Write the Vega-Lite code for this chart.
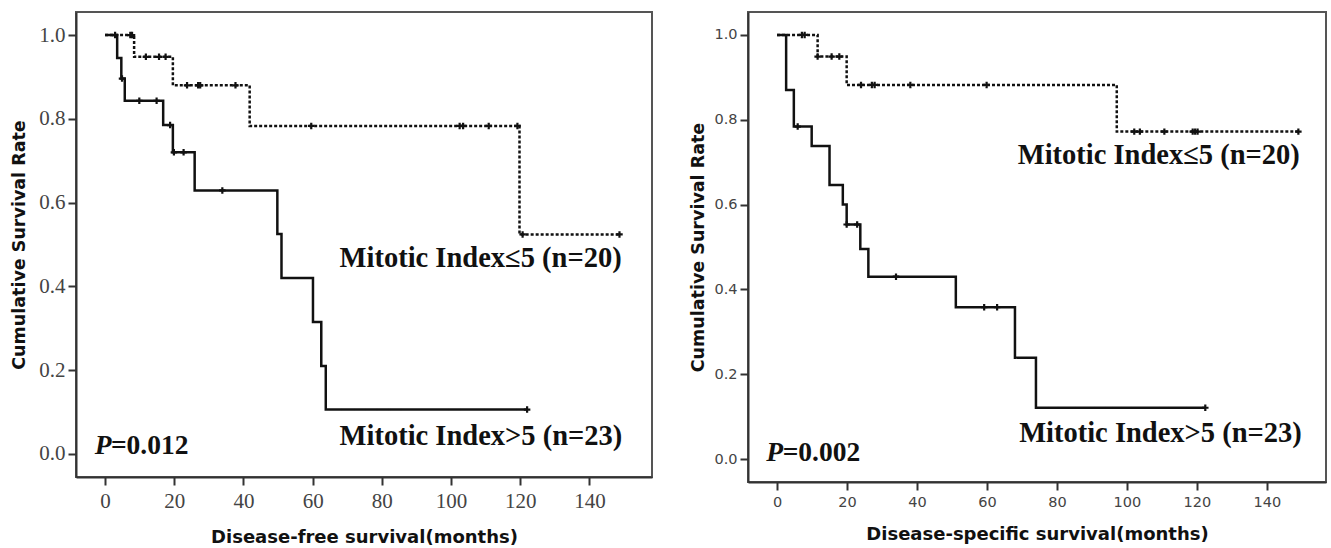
{
  "$schema": "https://vega.github.io/schema/vega-lite/v6.json",
  "padding": {"left": 9, "top": 11, "right": 5, "bottom": 5},
  "spacing": 35,
  "background": "white",
  "config": {
    "view": {"stroke": "#555", "strokeWidth": 2},
    "axis": {"grid": false, "domainColor": "#333", "domainWidth": 2, "tickColor": "#333", "tickWidth": 2, "tickSize": 8, "labelColor": "#444", "titleColor": "#111", "titleFont": "DejaVu Sans", "titleFontWeight": "bold"},
    "text": {"font": "Liberation Serif", "fontWeight": "bold", "fontSize": 28.5, "align": "left", "baseline": "middle", "color": "#111"}
  },
  "datasets": {
    "steps": [
      {"panel": "dfs", "group": "gt5", "t": 0, "s": 1.0},
      {"panel": "dfs", "group": "gt5", "t": 3.5, "s": 0.945},
      {"panel": "dfs", "group": "gt5", "t": 4.7, "s": 0.896},
      {"panel": "dfs", "group": "gt5", "t": 5.7, "s": 0.843},
      {"panel": "dfs", "group": "gt5", "t": 16.8, "s": 0.785},
      {"panel": "dfs", "group": "gt5", "t": 19.6, "s": 0.72},
      {"panel": "dfs", "group": "gt5", "t": 25.9, "s": 0.629},
      {"panel": "dfs", "group": "gt5", "t": 49.8, "s": 0.525},
      {"panel": "dfs", "group": "gt5", "t": 51.0, "s": 0.42},
      {"panel": "dfs", "group": "gt5", "t": 60.1, "s": 0.315},
      {"panel": "dfs", "group": "gt5", "t": 62.5, "s": 0.21},
      {"panel": "dfs", "group": "gt5", "t": 63.8, "s": 0.106},
      {"panel": "dfs", "group": "gt5", "t": 122, "s": 0.106},
      {"panel": "dfs", "group": "le5", "t": 0, "s": 1.0},
      {"panel": "dfs", "group": "le5", "t": 8.4, "s": 0.948},
      {"panel": "dfs", "group": "le5", "t": 19.6, "s": 0.88},
      {"panel": "dfs", "group": "le5", "t": 41.8, "s": 0.783},
      {"panel": "dfs", "group": "le5", "t": 119.8, "s": 0.524},
      {"panel": "dfs", "group": "le5", "t": 148.7, "s": 0.524},
      {"panel": "dss", "group": "gt5", "t": 0, "s": 1.0},
      {"panel": "dss", "group": "gt5", "t": 2.6, "s": 0.87},
      {"panel": "dss", "group": "gt5", "t": 4.8, "s": 0.784},
      {"panel": "dss", "group": "gt5", "t": 9.9, "s": 0.738},
      {"panel": "dss", "group": "gt5", "t": 15.0, "s": 0.646},
      {"panel": "dss", "group": "gt5", "t": 18.8, "s": 0.6},
      {"panel": "dss", "group": "gt5", "t": 19.9, "s": 0.553},
      {"panel": "dss", "group": "gt5", "t": 23.8, "s": 0.495},
      {"panel": "dss", "group": "gt5", "t": 26.1, "s": 0.43},
      {"panel": "dss", "group": "gt5", "t": 51.1, "s": 0.358},
      {"panel": "dss", "group": "gt5", "t": 68.0, "s": 0.239},
      {"panel": "dss", "group": "gt5", "t": 74.0, "s": 0.121},
      {"panel": "dss", "group": "gt5", "t": 122.4, "s": 0.121},
      {"panel": "dss", "group": "le5", "t": 0, "s": 1.0},
      {"panel": "dss", "group": "le5", "t": 11.6, "s": 0.949},
      {"panel": "dss", "group": "le5", "t": 19.9, "s": 0.882},
      {"panel": "dss", "group": "le5", "t": 97.1, "s": 0.772},
      {"panel": "dss", "group": "le5", "t": 149, "s": 0.772}
    ],
    "censors": [
      {"panel": "dfs", "t": 2.9, "s": 1.0},
      {"panel": "dfs", "t": 4.9, "s": 0.896},
      {"panel": "dfs", "t": 9.9, "s": 0.843},
      {"panel": "dfs", "t": 14.9, "s": 0.843},
      {"panel": "dfs", "t": 18.8, "s": 0.785},
      {"panel": "dfs", "t": 19.9, "s": 0.72},
      {"panel": "dfs", "t": 22.7, "s": 0.72},
      {"panel": "dfs", "t": 33.9, "s": 0.629},
      {"panel": "dfs", "t": 122, "s": 0.106},
      {"panel": "dfs", "t": 7.3, "s": 1.0},
      {"panel": "dfs", "t": 7.8, "s": 1.0},
      {"panel": "dfs", "t": 11.8, "s": 0.948},
      {"panel": "dfs", "t": 15.6, "s": 0.948},
      {"panel": "dfs", "t": 17.5, "s": 0.948},
      {"panel": "dfs", "t": 23.7, "s": 0.88},
      {"panel": "dfs", "t": 26.9, "s": 0.88},
      {"panel": "dfs", "t": 27.5, "s": 0.88},
      {"panel": "dfs", "t": 37.7, "s": 0.88},
      {"panel": "dfs", "t": 59.6, "s": 0.783},
      {"panel": "dfs", "t": 102.5, "s": 0.783},
      {"panel": "dfs", "t": 103.5, "s": 0.783},
      {"panel": "dfs", "t": 110.9, "s": 0.783},
      {"panel": "dfs", "t": 119.2, "s": 0.783},
      {"panel": "dfs", "t": 120.7, "s": 0.524},
      {"panel": "dfs", "t": 148.7, "s": 0.524},
      {"panel": "dss", "t": 5.9, "s": 0.784},
      {"panel": "dss", "t": 19.9, "s": 0.553},
      {"panel": "dss", "t": 22.9, "s": 0.553},
      {"panel": "dss", "t": 34.0, "s": 0.43},
      {"panel": "dss", "t": 59.2, "s": 0.358},
      {"panel": "dss", "t": 62.9, "s": 0.358},
      {"panel": "dss", "t": 122.4, "s": 0.121},
      {"panel": "dss", "t": 7.1, "s": 1.0},
      {"panel": "dss", "t": 7.9, "s": 1.0},
      {"panel": "dss", "t": 11.6, "s": 0.949},
      {"panel": "dss", "t": 15.6, "s": 0.949},
      {"panel": "dss", "t": 17.8, "s": 0.949},
      {"panel": "dss", "t": 24.0, "s": 0.882},
      {"panel": "dss", "t": 27.1, "s": 0.882},
      {"panel": "dss", "t": 27.9, "s": 0.882},
      {"panel": "dss", "t": 38.1, "s": 0.882},
      {"panel": "dss", "t": 59.9, "s": 0.882},
      {"panel": "dss", "t": 102.1, "s": 0.772},
      {"panel": "dss", "t": 103.7, "s": 0.772},
      {"panel": "dss", "t": 110.7, "s": 0.772},
      {"panel": "dss", "t": 118.8, "s": 0.772},
      {"panel": "dss", "t": 119.5, "s": 0.772},
      {"panel": "dss", "t": 120.2, "s": 0.772},
      {"panel": "dss", "t": 149, "s": 0.772}
    ],
    "labels": [
      {"panel": "dfs", "label": "Mitotic Index≤5 (n=20)", "t": 67.8, "s": 0.467},
      {"panel": "dfs", "label": "Mitotic Index>5 (n=23)", "t": 67.8, "s": 0.043},
      {"panel": "dss", "label": "Mitotic Index≤5 (n=20)", "t": 68.8, "s": 0.717},
      {"panel": "dss", "label": "Mitotic Index>5 (n=23)", "t": 69.2, "s": 0.061}
    ],
    "pvalues": [
      {"panel": "dfs", "label": "=0.012", "t": 1.7, "s": 0.019},
      {"panel": "dss", "label": "=0.002", "t": 1.6, "s": 0.015}
    ],
    "pletters": [
      {"panel": "dfs", "label": "P", "t": -3.0, "s": 0.019},
      {"panel": "dss", "label": "P", "t": -3.1, "s": 0.015}
    ]
  },
  "hconcat": [
    {
      "width": 576,
      "height": 465,
      "encoding": {
        "x": {"field": "t", "type": "quantitative", "scale": {"domain": [-8.4, 158.1], "nice": false, "zero": false},
          "axis": {"values": [0, 20, 40, 60, 80, 100, 120, 140], "title": "Disease-free survival(months)", "titleFontSize": 18, "titlePadding": 17, "labelFont": "Liberation Serif", "labelFontSize": 21, "labelPadding": 5}},
        "y": {"field": "s", "type": "quantitative", "scale": {"domain": [-0.055, 1.055], "nice": false, "zero": false},
          "axis": {"values": [0, 0.2, 0.4, 0.6, 0.8, 1.0], "format": ".1f", "title": "Cumulative Survival Rate", "titleFontSize": 17.5, "titlePadding": 10, "labelFont": "Liberation Serif", "labelFontSize": 21, "labelPadding": 3}}
      },
      "layer": [
        {
          "data": {"name": "steps"},
          "transform": [{"filter": "datum.panel === 'dfs'"}],
          "mark": {"type": "line", "interpolate": "step-after", "color": "#111", "strokeWidth": 2.5},
          "encoding": {
            "detail": {"field": "group"},
            "strokeDash": {"field": "group", "type": "nominal", "scale": {"domain": ["gt5", "le5"], "range": [[1, 0], [3, 2]]}, "legend": null}
          }
        },
        {
          "data": {"name": "censors"},
          "transform": [{"filter": "datum.panel === 'dfs'"}],
          "mark": {"type": "point", "shape": "M0,-1L0,1M-1,0L1,0", "filled": false, "color": "#111", "strokeWidth": 2.2, "size": 42, "opacity": 1}
        },
        {
          "data": {"name": "labels"},
          "transform": [{"filter": "datum.panel === 'dfs'"}],
          "mark": {"type": "text"},
          "encoding": {"text": {"field": "label"}}
        },
        {
          "data": {"name": "pvalues"},
          "transform": [{"filter": "datum.panel === 'dfs'"}],
          "mark": {"type": "text", "fontSize": 27.5},
          "encoding": {"text": {"field": "label"}}
        },
        {
          "data": {"name": "pletters"},
          "transform": [{"filter": "datum.panel === 'dfs'"}],
          "mark": {"type": "text", "fontStyle": "italic", "fontSize": 27.5},
          "encoding": {"text": {"field": "label"}}
        }
      ]
    },
    {
      "width": 578,
      "height": 470,
      "encoding": {
        "x": {"field": "t", "type": "quantitative", "scale": {"domain": [-8.3, 156.9], "nice": false, "zero": false},
          "axis": {"values": [0, 20, 40, 60, 80, 100, 120, 140], "title": "Disease-specific survival(months)", "titleFontSize": 18, "titlePadding": 17, "labelFont": "DejaVu Sans", "labelFontSize": 14.5, "labelPadding": 5}},
        "y": {"field": "s", "type": "quantitative", "scale": {"domain": [-0.054, 1.054], "nice": false, "zero": false},
          "axis": {"values": [0, 0.2, 0.4, 0.6, 0.8, 1.0], "format": ".1f", "title": "Cumulative Survival Rate", "titleFontSize": 17.5, "titlePadding": 6, "labelFont": "DejaVu Sans", "labelFontSize": 14.5, "labelPadding": 3}}
      },
      "layer": [
        {
          "data": {"name": "steps"},
          "transform": [{"filter": "datum.panel === 'dss'"}],
          "mark": {"type": "line", "interpolate": "step-after", "color": "#111", "strokeWidth": 2.5},
          "encoding": {
            "detail": {"field": "group"},
            "strokeDash": {"field": "group", "type": "nominal", "scale": {"domain": ["gt5", "le5"], "range": [[1, 0], [3, 2]]}, "legend": null}
          }
        },
        {
          "data": {"name": "censors"},
          "transform": [{"filter": "datum.panel === 'dss'"}],
          "mark": {"type": "point", "shape": "M0,-1L0,1M-1,0L1,0", "filled": false, "color": "#111", "strokeWidth": 2.2, "size": 42, "opacity": 1}
        },
        {
          "data": {"name": "labels"},
          "transform": [{"filter": "datum.panel === 'dss'"}],
          "mark": {"type": "text"},
          "encoding": {"text": {"field": "label"}}
        },
        {
          "data": {"name": "pvalues"},
          "transform": [{"filter": "datum.panel === 'dss'"}],
          "mark": {"type": "text", "fontSize": 27.5},
          "encoding": {"text": {"field": "label"}}
        },
        {
          "data": {"name": "pletters"},
          "transform": [{"filter": "datum.panel === 'dss'"}],
          "mark": {"type": "text", "fontStyle": "italic", "fontSize": 27.5},
          "encoding": {"text": {"field": "label"}}
        }
      ]
    }
  ]
}
